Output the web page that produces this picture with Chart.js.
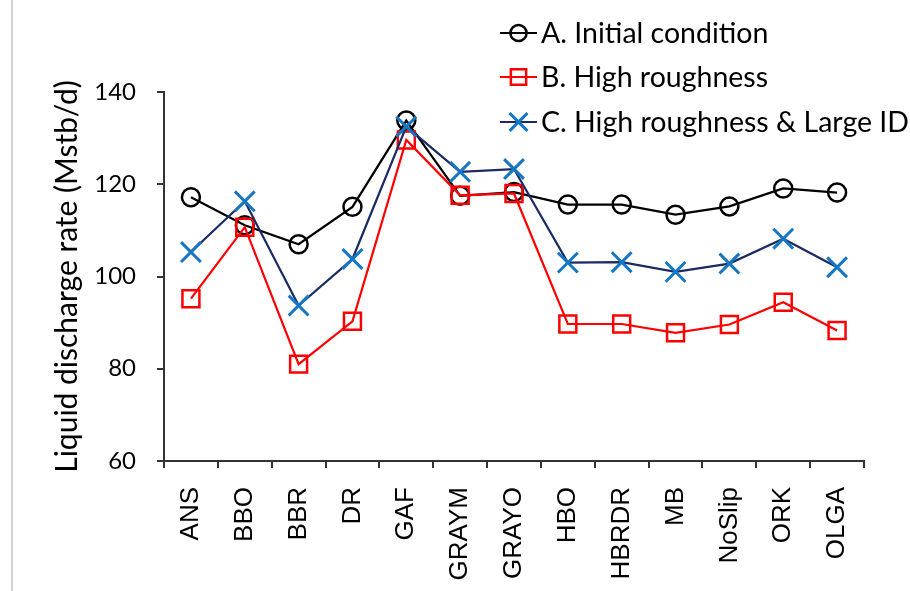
<!DOCTYPE html>
<html>
<head>
<meta charset="utf-8">
<script src="https://cdn.jsdelivr.net/npm/chart.js@4/dist/chart.umd.min.js"></script>
<style>
  html, body { margin: 0; padding: 0; background: #ffffff; }
  #wrap { width: 910px; height: 591px; position: relative; }
</style>
</head>
<body>
<div id="wrap"><canvas id="c" width="910" height="591"></canvas></div>
<script>
const categories = ["ANS", "BBO", "BBR", "DR", "GAF", "GRAYM", "GRAYO", "HBO", "HBRDR", "MB", "NoSlip", "ORK", "OLGA"];
const seriesA = [117.2, 111.1, 107.0, 115.1, 133.8, 117.5, 118.3, 115.6, 115.6, 113.4, 115.2, 119.1, 118.2];
const seriesB = [95.2, 110.7, 81.0, 90.3, 129.6, 117.6, 118.0, 89.7, 89.7, 87.8, 89.6, 94.4, 88.3];
const seriesC = [105.3, 116.3, 93.7, 103.8, 132.5, 122.7, 123.3, 103.0, 103.1, 101.0, 102.8, 108.2, 102.0];
const seriesLabels = ["A. Initial condition", "B. High roughness", "C. High roughness & Large ID"];
const yTitle = "Liquid discharge rate (Mstb/d)";
const yMin = 60, yMax = 140, yStep = 20;

const axisColor = '#333333';

const frameLine = {
  id: 'frameLine',
  beforeDraw(chart) {
    const ctx = chart.ctx;
    ctx.save();
    ctx.fillStyle = '#ffffff';
    ctx.fillRect(0, 0, chart.width, chart.height);
    ctx.fillStyle = '#d4d4d4';
    ctx.fillRect(11, 0, 2, chart.height);
    ctx.restore();
  }
};

const lineLegend = {
  id: 'lineLegend',
  afterDatasetsDraw(chart) {
    const ctx = chart.ctx;
    const x0 = 500, x1 = 537, tx = 541;
    const ys = [33, 77, 122];
    chart.data.datasets.forEach((ds, i) => {
      const y = ys[i];
      ctx.save();
      ctx.strokeStyle = ds.borderColor;
      ctx.lineWidth = ds.borderWidth;
      ctx.beginPath();
      ctx.moveTo(x0, y);
      ctx.lineTo(x1, y);
      ctx.stroke();
      ctx.strokeStyle = ds.pointBorderColor;
      ctx.fillStyle = 'rgba(0,0,0,0)';
      ctx.lineWidth = ds.pointBorderWidth;
      Chart.helpers.drawPoint(ctx, {
        pointStyle: ds.pointStyle,
        radius: ds.pointRadius * 0.9,
        borderWidth: ds.pointBorderWidth,
        rotation: 0
      }, (x0 + x1) / 2, y);
      ctx.fillStyle = '#000000';
      ctx.font = '28.5px Lato';
      ctx.textAlign = 'left';
      ctx.textBaseline = 'middle';
      ctx.fillText(ds.label, tx, y + 1);
      ctx.restore();
    });
  }
};

new Chart(document.getElementById('c'), {
  type: 'line',
  data: {
    labels: categories,
    datasets: [
      {
        label: seriesLabels[0], data: seriesA,
        borderColor: '#000000', borderWidth: 2.2,
        pointStyle: 'circle', pointRadius: 9, pointBorderWidth: 2.5,
        pointBorderColor: '#000000', pointBackgroundColor: 'rgba(0,0,0,0)',
        tension: 0, order: 3
      },
      {
        label: seriesLabels[1], data: seriesB,
        borderColor: '#ff0000', borderWidth: 2.2,
        pointStyle: 'rect', pointRadius: 12, pointBorderWidth: 2.5,
        pointBorderColor: '#ff0000', pointBackgroundColor: 'rgba(0,0,0,0)',
        tension: 0, order: 2
      },
      {
        label: seriesLabels[2], data: seriesC,
        borderColor: '#1a2a63', borderWidth: 2.2,
        pointStyle: 'crossRot', pointRadius: 14, pointBorderWidth: 3,
        pointBorderColor: '#1577c4', pointBackgroundColor: 'rgba(0,0,0,0)',
        tension: 0, order: 1
      }
    ]
  },
  options: {
    responsive: false,
    animation: false,
    events: [],
    layout: { padding: { top: 92, right: 46, left: 0, bottom: 0 } },
    plugins: { legend: { display: false }, tooltip: { enabled: false } },
    scales: {
      x: {
        type: 'category',
        offset: true,
        grid: { display: true, drawOnChartArea: false, drawTicks: true, tickLength: 7, offset: true, color: axisColor, lineWidth: 2 },
        border: { display: true, color: axisColor, width: 2 },
        ticks: {
          color: '#000000', font: { family: 'Liberation Sans', size: 26 },
          minRotation: 90, maxRotation: 90, padding: 19, autoSkip: false
        },
        afterFit(scale) { scale.height = 130; }
      },
      y: {
        min: yMin, max: yMax,
        grid: { display: true, drawOnChartArea: false, drawTicks: true, tickLength: 7, color: axisColor, lineWidth: 2 },
        border: { display: true, color: axisColor, width: 2 },
        ticks: { stepSize: yStep, color: '#000000', font: { family: 'Lato', size: 24 }, padding: 21 },
        title: { display: true, text: yTitle, color: '#000000', font: { family: 'Lato', size: 30 }, padding: { top: 49, bottom: 0 } },
        afterFit(scale) { scale.width = 164; }
      }
    }
  },
  plugins: [frameLine, lineLegend]
});
</script>
</body>
</html>
